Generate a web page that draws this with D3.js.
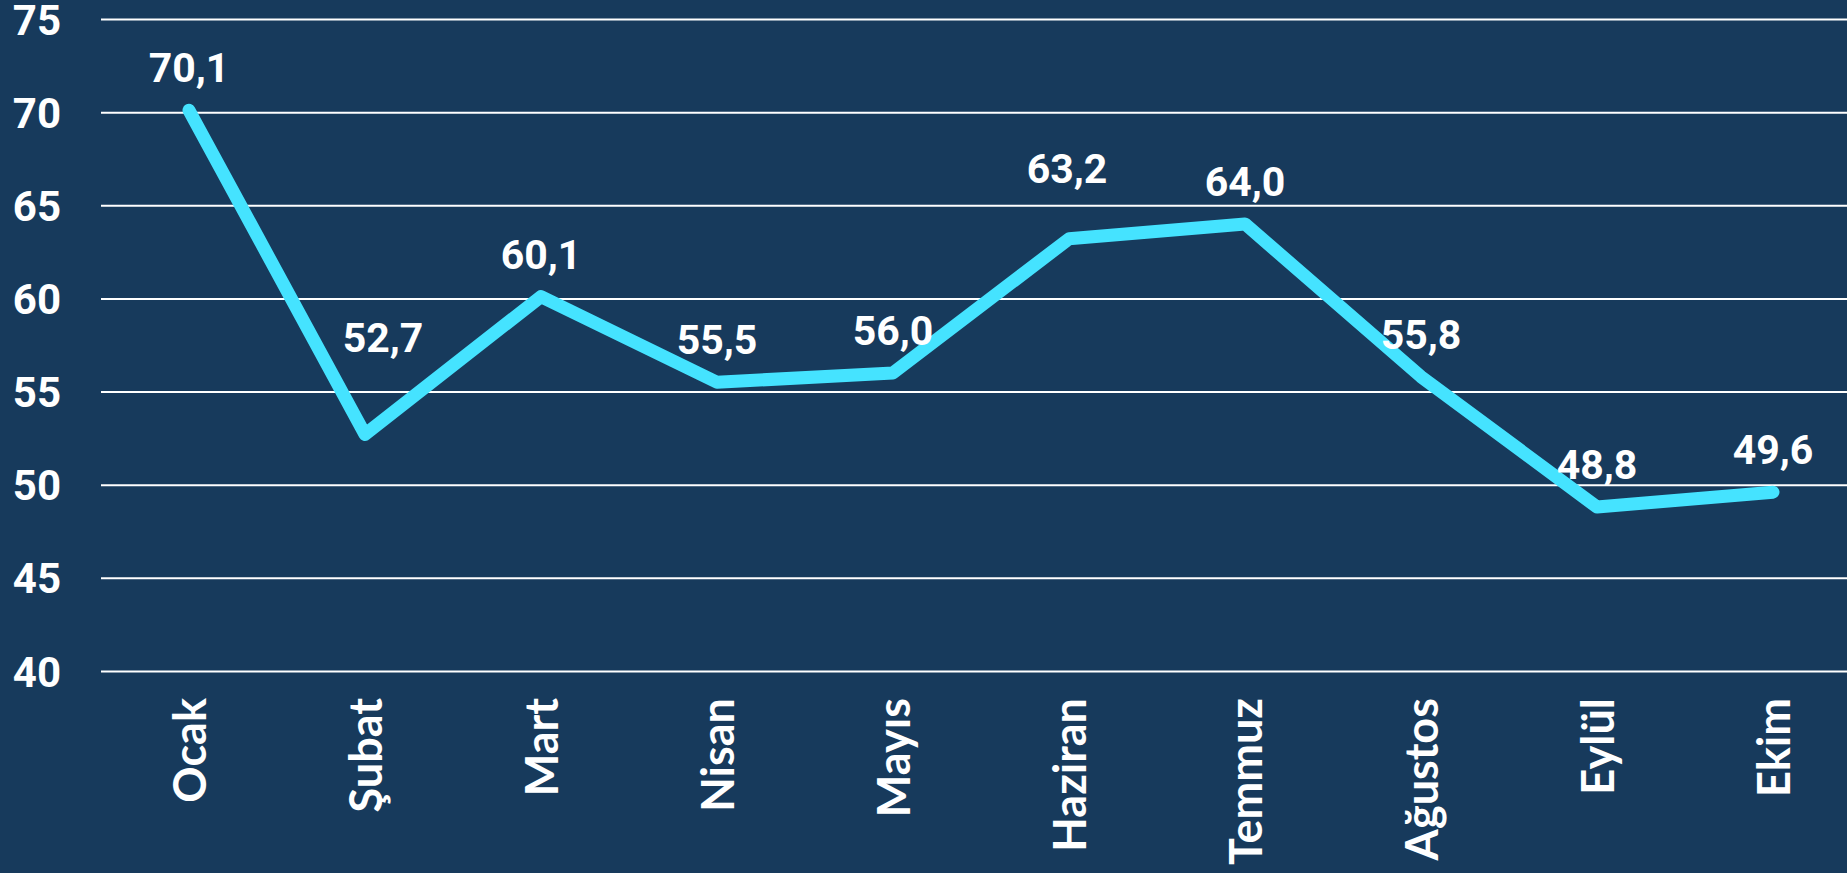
<!DOCTYPE html>
<html>
<head>
<meta charset="utf-8">
<script src="https://cdn.jsdelivr.net/npm/d3@7"></script>
<style>
    html, body { margin: 0; padding: 0; background: #173a5c; overflow: hidden; }
    .grid line { stroke: #ffffff; stroke-width: 2; }
    .grid text { font-family: Roboto, sans-serif; font-weight: bold; font-size: 42px; fill: #ffffff; }
    .months text { font-family: Lato, sans-serif; font-weight: bold; font-size: 45px; fill: #ffffff; }
    .label { font-family: Roboto, sans-serif; font-weight: bold; font-size: 41px; fill: #ffffff; }
</style>
</head>
<body>
<div id="chart"></div>
<script>
// data
var months = ['Ocak', 'Şubat', 'Mart', 'Nisan', 'Mayıs', 'Haziran', 'Temmuz', 'Ağustos', 'Eylül', 'Ekim'];
var values = [70.1, 52.7, 60.1, 55.5, 56.0, 63.2, 64.0, 55.8, 48.8, 49.6];
var yTicks = [40, 45, 50, 55, 60, 65, 70, 75];

var width = 1847;
var height = 873;
var gridLeft = 101;

var svg = d3.select('#chart')
    .append('svg')
    .attr('width', width)
    .attr('height', height);

svg.append('rect')
    .attr('width', width)
    .attr('height', height)
    .style('fill', '#173a5c');

var x = d3.scalePoint()
    .domain(months)
    .range([189, 1773]);

var y = d3.scaleLinear()
    .domain([40, 75])
    .range([671, 19]);

//horizontal grid + y labels
var yAxis = d3.axisLeft(y)
    .tickValues(yTicks)
    .tickSizeInner(-(width - gridLeft))
    .tickSizeOuter(0)
    .tickPadding(40);

var grid = svg.append('g')
    .attr('class', 'grid')
    .attr('transform', 'translate(' + gridLeft + ',0)')
    .call(yAxis);
grid.select('.domain').remove();
grid.selectAll('text').attr('dy', '0.36em');

//month labels, rotated
var xAxis = d3.axisBottom(x).tickSize(0);
var monthsG = svg.append('g')
    .attr('class', 'months')
    .attr('transform', 'translate(0,698)')
    .call(xAxis);
monthsG.select('.domain').remove();
monthsG.selectAll('text')
    .attr('y', 0)
    .attr('dy', '0.36em')
    .attr('transform', 'rotate(-90)')
    .style('text-anchor', 'end');

//the line
var line = d3.line()
    .x(function(d, i){ return x(months[i]); })
    .y(function(d){ return y(d); });

svg.append('path')
    .datum(values)
    .attr('d', line)
    .style('fill', 'none')
    .style('stroke', '#45e3ff')
    .style('stroke-width', 13)
    .style('stroke-linejoin', 'round')
    .style('stroke-linecap', 'round');

//value labels; a couple were moved off the line by hand
var nudge = {'Şubat': [18, -54], 'Haziran': [-2, -28]};

svg.selectAll('.label')
    .data(values)
    .enter()
    .append('text')
    .attr('class', 'label')
    .attr('text-anchor', 'middle')
    .attr('x', function(d, i){
        var n = nudge[months[i]];
        return x(months[i]) + (n ? n[0] : 0);
    })
    .attr('y', function(d, i){
        var n = nudge[months[i]];
        return y(d) - 28 + (n ? n[1] : 0);
    })
    .text(function(d){ return d.toFixed(1).replace('.', ','); });
</script>
</body>
</html>
